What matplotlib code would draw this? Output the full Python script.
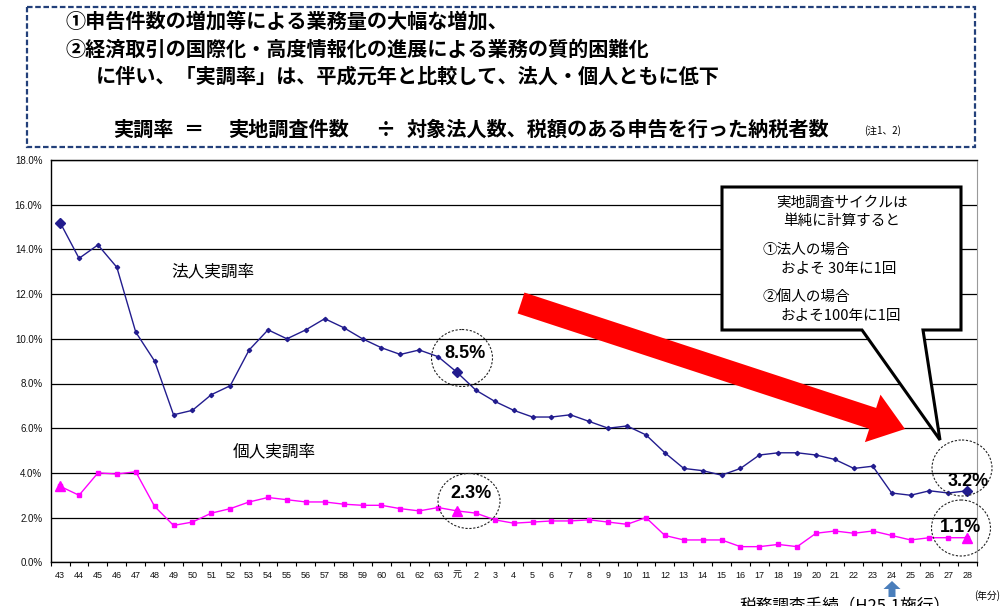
import matplotlib
matplotlib.use('Agg')
import matplotlib.pyplot as plt
import matplotlib.patches as mpatches
import matplotlib.transforms as mtransforms
from matplotlib.ticker import FuncFormatter
import numpy as np

plt.rcParams['font.family'] = ['Noto Sans CJK JP', 'DejaVu Sans']

# fiscal years (昭和43 .. 63, 平成元 .. 28)
years = ['43', '44', '45', '46', '47', '48', '49', '50', '51', '52', '53',
         '54', '55', '56', '57', '58', '59', '60', '61', '62', '63', '元',
         '2', '3', '4', '5', '6', '7', '8', '9', '10', '11', '12', '13', '14',
         '15', '16', '17', '18', '19', '20', '21', '22', '23', '24', '25',
         '26', '27', '28']

# 法人実調率 (%)
corp = [15.2, 13.6, 14.2, 13.2, 10.3, 9.0, 6.6, 6.8, 7.5, 7.9, 9.5,
        10.4, 10.0, 10.4, 10.9, 10.5, 10.0, 9.6, 9.3, 9.5, 9.2, 8.5,
        7.7, 7.2, 6.8, 6.5, 6.5, 6.6, 6.3, 6.0, 6.1, 5.7, 4.9, 4.2, 4.1,
        3.9, 4.2, 4.8, 4.9, 4.9, 4.8, 4.6, 4.2, 4.3, 3.1, 3.0,
        3.2, 3.1, 3.2]

# 個人実調率 (%)
indiv = [3.4, 3.0, 4.0, 3.95, 4.05, 2.5, 1.65, 1.8, 2.2, 2.4, 2.7,
         2.9, 2.8, 2.7, 2.7, 2.6, 2.55, 2.55, 2.4, 2.3, 2.45, 2.3,
         2.2, 1.9, 1.75, 1.8, 1.85, 1.85, 1.9, 1.8, 1.7, 2.0, 1.2, 1.0, 1.0,
         1.0, 0.7, 0.7, 0.8, 0.7, 1.3, 1.4, 1.3, 1.4, 1.2, 1.0,
         1.1, 1.1, 1.1]

# highlighted years
marked = ['43', '元', '28']

NAVY = '#221C8E'
MAG = '#FF00FF'
W, H = 1006, 606

fig = plt.figure(figsize=(W / 100, H / 100), dpi=100)
# pixel coords, origin top-left (for the overlay boxes / notes)
px = mtransforms.Affine2D().scale(1 / W, -1 / H).translate(0, 1) + fig.transFigure

ax = fig.add_axes([50.7 / W, 1 - 562.3 / H, 926 / W, 402.3 / H])
x = np.arange(len(years))
corp_a = np.array(corp)
indiv_a = np.array(indiv)
hi = [years.index(m) for m in marked]

ax.plot(x, corp_a, color=NAVY, lw=1.0, marker='D', ms=2.2, zorder=3)
ax.plot(x, indiv_a, color=MAG, lw=1.0, marker='s', ms=2.2, zorder=3)
ax.plot(x[hi], corp_a[hi], ls='none', marker='D', ms=5.5, color=NAVY, zorder=4, clip_on=False)
ax.plot(x[hi], indiv_a[hi], ls='none', marker='^', ms=7, color=MAG, zorder=4, clip_on=False)

ax.set_xlim(-0.5, len(years) - 0.5)
ax.set_ylim(0, 18)
ax.set_yticks(np.arange(0, 18.1, 2))
ax.yaxis.set_major_formatter(FuncFormatter(lambda v, p: f'{v:.1f}%'))
ax.grid(axis='y', color='black', lw=0.9)
ax.set_axisbelow(True)
ax.set_xticks(x, years)
ax.set_xticks(np.arange(len(years) + 1) - 0.5, minor=True)
ax.tick_params(axis='x', which='major', length=0, pad=6, labelsize=6.5)
ax.tick_params(axis='x', which='minor', length=3, width=0.8, direction='out')
ax.tick_params(axis='y', length=0, pad=6, labelsize=7)
for lab in ax.get_xticklabels() + ax.get_yticklabels():
    lab.set_family(['Liberation Sans', 'Noto Sans CJK JP'])
    lab.set_color('#111111')
for s in ['left', 'bottom', 'top']:
    ax.spines[s].set_color('black')
    ax.spines[s].set_linewidth(1.0)
ax.spines['right'].set_color('#999999')
ax.spines['right'].set_linewidth(0.8)

# series labels
ax.text(213, 272, '法人実調率', transform=px, fontsize=12, ha='center', va='center')
ax.text(274, 452, '個人実調率', transform=px, fontsize=12, ha='center', va='center')

# top explanation box
fig.add_artist(mpatches.Rectangle((27, 7), 948, 140, transform=px, fill=False,
                                  ec='#23407A', lw=1.6, ls=(0, (2.5, 1.2))))
bold = dict(transform=px, fontsize=14.5, fontweight='bold', va='center', ha='left')
fig.text(66, 22, '①申告件数の増加等による業務量の大幅な増加、', **bold)
fig.text(66, 49, '②経済取引の国際化・高度情報化の進展による業務の質的困難化', **bold)
fig.text(96, 76, 'に伴い、「実調率」は、平成元年と比較して、法人・個人ともに低下', **bold)
fig.text(113, 129, '実調率', **bold)
fig.text(183, 129, '＝', **bold)
fig.text(228, 129, '実地調査件数', **bold)
fig.text(375, 129, '÷', **bold)
fig.text(407, 129, '対象法人数、税額のある申告を行った納税者数', **bold)
fig.text(883, 131, '(注1、2)', transform=px, fontsize=7, ha='center', va='center')

# callout box
callout = [(722, 187), (961, 187), (961, 330), (923, 330), (940, 440),
           (862, 330), (722, 330)]
fig.add_artist(mpatches.Polygon(callout, closed=True, transform=px, fc='white',
                                ec='black', lw=2.2, joinstyle='miter'))
note = dict(transform=px, fontsize=10.5, va='center')
fig.text(842, 203, '実地調査サイクルは', ha='center', **note)
fig.text(842, 221, '単純に計算すると', ha='center', **note)
fig.text(763, 250, '①法人の場合', ha='left', **note)
fig.text(781, 269, 'およそ 30年に1回', ha='left', **note)
fig.text(763, 297, '②個人の場合', ha='left', **note)
fig.text(781, 316, 'およそ100年に1回', ha='left', **note)

# red trend arrow
fig.add_artist(mpatches.FancyArrow(521, 303, 384, 126, width=22, head_width=50,
                                   head_length=34, length_includes_head=True,
                                   transform=px, color='#FF0000', lw=0))

# circled values
for cx, cy, w, h, tx, ty, s in [(462, 358, 61, 57, 465, 354, '8.5%'),
                                (469, 501, 62, 55, 471, 494, '2.3%'),
                                (962, 468, 60, 56, 968, 481, '3.2%'),
                                (961, 528, 59, 56, 961, 527, '1.1%')]:
    fig.add_artist(mpatches.Ellipse((cx, cy), w, h, transform=px, fill=False,
                                    ec='#222222', lw=0.8, ls=(0, (2, 1.5))))
    fig.text(tx, ty, s, transform=px, fontsize=13, fontweight='bold',
             family='Liberation Sans', ha='center', va='center')

# bottom notes
fig.add_artist(mpatches.FancyArrow(892, 597, 0, -16, width=7, head_width=17,
                                   head_length=8, length_includes_head=True,
                                   transform=px, color='#4A7EBB', lw=0))
fig.text(740, 597, '税務調査手続（H25.1施行）', transform=px, fontsize=12,
         ha='left', va='top')
fig.text(987, 596, '(年分)', transform=px, fontsize=7, ha='center', va='center')

fig.savefig('out.png', dpi=100, facecolor='white')
